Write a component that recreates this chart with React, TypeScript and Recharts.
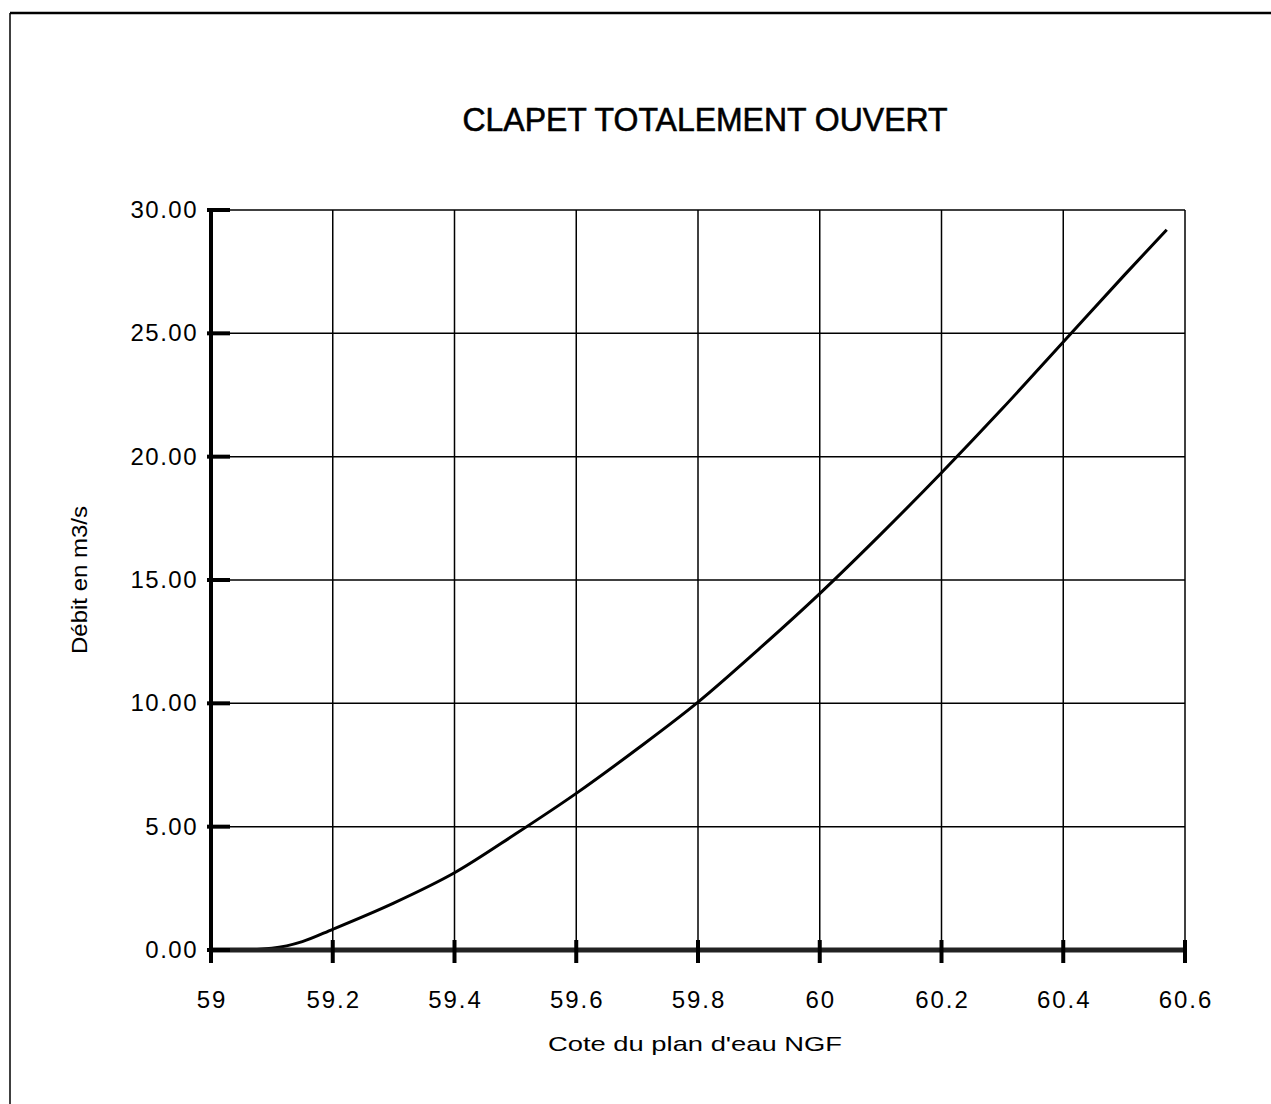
import { LineChart, Line, XAxis, YAxis, CartesianGrid, Label } from "recharts"

// cote du plan d'eau (m NGF) et débit (m3/s)
const cotes = [59.0, 59.05, 59.1, 59.15, 59.2, 59.3, 59.4, 59.5, 59.6, 59.7, 59.8, 59.9, 60.0, 60.1, 60.2, 60.3, 60.4, 60.5, 60.57]
const debits = [0, 0, 0.07, 0.34, 0.84, 1.9, 3.13, 4.7, 6.35, 8.15, 10.05, 12.2, 14.45, 16.85, 19.35, 21.95, 24.65, 27.35, 29.2]

const ticksX = [59, 59.2, 59.4, 59.6, 59.8, 60, 60.2, 60.4, 60.6]
const ticksY = [0, 5, 10, 15, 20, 25, 30]

const titre = "CLAPET TOTALEMENT OUVERT"
const labelX = "Cote du plan d'eau NGF"
const labelY = "Débit en m3/s"

const data = cotes.map((cote, i) => ({ cote, debit: debits[i] }))

const FONT = "'Liberation Sans', Arial, Helvetica, sans-serif"

function TickY({ x, y, payload }: any) {
  return (
    <g>
      <line x1={x + 6} x2={x + 29} y1={y} y2={y} stroke="#000" strokeWidth={4} />
      <text x={x - 3} y={y} dy={8} textAnchor="end" fontFamily={FONT} fontSize={24} letterSpacing={1.5} fill="#000">
        {Number(payload.value).toFixed(2)}
      </text>
    </g>
  )
}

function TickX({ x, y, payload }: any) {
  return (
    <g>
      <line x1={x} x2={x} y1={y - 20} y2={y + 3} stroke="#000" strokeWidth={4} />
      <text x={x + 1} y={y + 48} textAnchor="middle" fontFamily={FONT} fontSize={24} letterSpacing={2} fill="#000">
        {String(payload.value)}
      </text>
    </g>
  )
}

export default function App() {
  return (
    <div style={{ position: "absolute", left: 0, top: 0, width: 1271, height: 1104, background: "#fff" }}>
      <LineChart width={1271} height={1104} data={data} margin={{ top: 210, right: 86, bottom: 44, left: 61 }}>
        <CartesianGrid stroke="#000" strokeWidth={1.5} />
        <XAxis
          dataKey="cote" type="number" domain={[59, 60.6]} ticks={ticksX} height={110}
          axisLine={{ stroke: "#222", strokeWidth: 5 }} tickLine={false} tickSize={0} tickMargin={10}
          tick={<TickX />} interval={0}
        >
          <Label
            content={({ viewBox }: any) => (
              <text x={viewBox.x + viewBox.width / 2 - 3} y={viewBox.y + 101} textAnchor="middle"
                fontFamily={FONT} fontSize={21} textLength={294} lengthAdjust="spacingAndGlyphs" fill="#000">
                {labelX}
              </text>
            )}
          />
        </XAxis>
        <YAxis
          type="number" domain={[0, 30]} ticks={ticksY} width={150}
          axisLine={{ stroke: "#000", strokeWidth: 4 }} tickLine={false} tickSize={0} tickMargin={10}
          tick={<TickY />} interval={0}
        >
          <Label
            content={({ viewBox }: any) => {
              const cx = viewBox.x + 18
              const cy = viewBox.y + viewBox.height / 2
              return (
                <text x={cx} y={cy} dy="0.35em" textAnchor="middle" transform={`rotate(-90, ${cx}, ${cy})`}
                  fontFamily={FONT} fontSize={22} textLength={148} lengthAdjust="spacingAndGlyphs" fill="#000">
                  {labelY}
                </text>
              )
            }}
          />
        </YAxis>
        <Line type="monotone" dataKey="debit" stroke="#000" strokeWidth={3} dot={false} isAnimationActive={false} />
      </LineChart>
      <svg width={1271} height={1104} style={{ position: "absolute", left: 0, top: 0, pointerEvents: "none" }}>
        <line x1={10} x2={1271} y1={13} y2={13} stroke="#000" strokeWidth={2.5} />
        <line x1={10} x2={10} y1={13} y2={1104} stroke="#000" strokeWidth={1.5} />
        <text x={705} y={131} textAnchor="middle" fontFamily={FONT} fontSize={33} textLength={485}
          lengthAdjust="spacingAndGlyphs" fill="#000" stroke="#000" strokeWidth={0.6}>
          {titre}
        </text>
      </svg>
    </div>
  )
}
